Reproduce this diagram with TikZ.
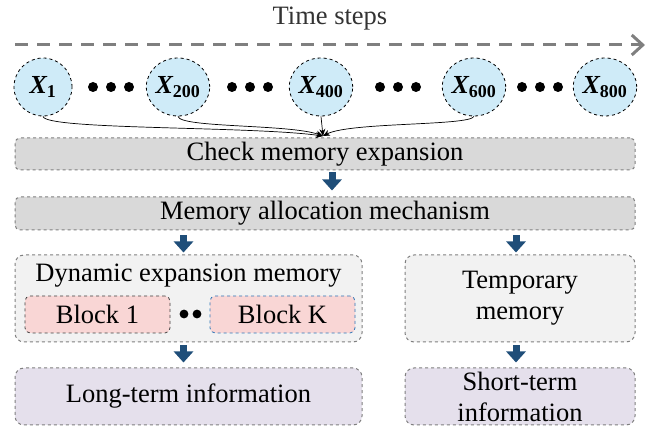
\documentclass[tikz,border=0pt]{standalone}
\usepackage{fontspec}
\setmainfont{Liberation Serif}
\usetikzlibrary{shapes.geometric,arrows.meta}
\definecolor{xfill}{HTML}{CFEBF8}
\definecolor{boxgrey}{HTML}{D9D9D9}
\definecolor{dynfill}{HTML}{F2F2F2}
\definecolor{blockfill}{HTML}{F9D6D5}
\definecolor{infofill}{HTML}{E5E0EC}
\definecolor{bordergrey}{HTML}{7F7F7F}
\definecolor{arrowblue}{HTML}{1F4E79}
\definecolor{blockblue}{HTML}{2E75B6}
\tikzset{
  bigfont/.style={font=\fontsize{26.5}{31}\selectfont},
  xnode/.style={ellipse, draw=black, dashed, line width=0.8pt, fill=xfill,
    minimum width=58pt, minimum height=58pt, inner sep=0pt, font=\fontsize{26}{30}\selectfont},
  gbox/.style={rectangle, rounded corners=5pt, draw=bordergrey, dashed, line width=1pt,
    fill=boxgrey, bigfont, inner sep=0pt},
  dbox/.style={rectangle, rounded corners=9pt, draw=bordergrey, dashed, line width=1pt,
    fill=dynfill, bigfont, inner sep=0pt},
  ibox/.style={rectangle, rounded corners=9pt, draw=bordergrey, dashed, line width=1pt,
    fill=infofill, bigfont, inner sep=0pt, align=center},
  blockbox/.style={rectangle, rounded corners=5pt, dashed, line width=0.8pt,
    fill=blockfill, bigfont, inner sep=0pt},
  bluearrow/.style={draw=arrowblue, line width=7pt, -{Triangle[length=11pt,width=19pt]}},
  thinarrow/.style={draw=black, line width=0.7pt, -{Stealth[length=7pt,width=6pt]}},
  dotmark/.style={fill=black},
}
\newcommand{\xlab}[1]{{\bfseries\itshape X}\textsubscript{\bfseries\fontsize{18}{19}\selectfont #1}}
\begin{document}
\begin{tikzpicture}[x=1pt,y=-1pt]
\useasboundingbox (0,0) rectangle (649,430);
% title
\node[font=\fontsize{26.5}{31}\selectfont, text=black!80] (title) at (330,19) {Time steps};
\coordinate (tstart) at (15,45);
\coordinate (tend) at (645,45);
\draw[draw=bordergrey, line width=3pt, dash pattern=on 13pt off 9pt, -{Straight Barb[length=11pt,width=20pt,line width=3pt]}] (tstart) -- (tend);
% x nodes
\node[xnode] (x1) at (43,87) {\xlab{1}};
\node[xnode] (x200) at (178,87) {\xlab{200}};
\node[xnode] (x400) at (321,87) {\xlab{400}};
\node[xnode] (x600) at (474,87) {\xlab{600}};
\node[xnode] (x800) at (605,87) {\xlab{800}};
% dots
\foreach \m in {111,250,398,540}{
  \foreach \d in {-18,0,18}{
    \fill[dotmark] (\m+\d,87) circle (5pt);
  }
}
% boxes
\node[gbox, minimum width=620pt, minimum height=32pt] (check) at (325,154) {Check memory expansion};
\node[gbox, minimum width=620pt, minimum height=33pt] (alloc) at (325,213.5) {Memory allocation mechanism};
\node[dbox, minimum width=347pt, minimum height=87pt] (dyn) at (188.5,298.5) {};
\node[bigfont] (dyntitle) at (188.5,276) {Dynamic expansion memory};
\node[blockbox, draw=black!75, minimum width=145pt, minimum height=37pt] (b1) at (97.5,314.5) {Block 1};
\node[blockbox, draw=blockblue, minimum width=145pt, minimum height=37pt] (bk) at (282.5,314.5) {Block K};
\fill[dotmark] (184,314) circle (4.4pt);
\fill[dotmark] (197,314) circle (4.4pt);
\node[dbox, minimum width=230pt, minimum height=87pt, align=center] (temp) at (520,298.5) {Temporary\\memory};
\node[ibox, minimum width=347pt, minimum height=57pt] (long) at (188.5,396.5) {Long-term information};
\node[ibox, minimum width=230pt, minimum height=57pt] (short) at (520,396.5) {Short-term\\information};
% thin arrows
\coordinate (conv) at (323,136);
\draw[thinarrow] (x1.south) .. controls (45,130) and (250,126) .. (conv);
\draw[thinarrow] (x200.south) .. controls (180,128) and (290,124) .. (conv);
\draw[thinarrow] (x400.south) -- (conv);
\draw[thinarrow] (x600.south) .. controls (470,126) and (350,122) .. (conv);
% blue arrows
\draw[bluearrow, shorten <=2pt, shorten >=6pt] ([xshift=7pt]check.south) -- ([xshift=7pt]alloc.north);
\draw[bluearrow, shorten <=5pt, shorten >=2pt] ([xshift=-5pt]alloc.south -| dyn.north) -- ([xshift=-5pt]dyn.north);
\draw[bluearrow, shorten <=5pt, shorten >=2pt] ([xshift=-4pt]alloc.south -| temp.north) -- ([xshift=-4pt]temp.north);
\draw[bluearrow, shorten <=3pt, shorten >=5pt] ([xshift=-5pt]dyn.south) -- ([xshift=-5pt]long.north);
\draw[bluearrow, shorten <=3pt, shorten >=5pt] ([xshift=-4pt]temp.south) -- ([xshift=-4pt]short.north);
\end{tikzpicture}
\end{document}
